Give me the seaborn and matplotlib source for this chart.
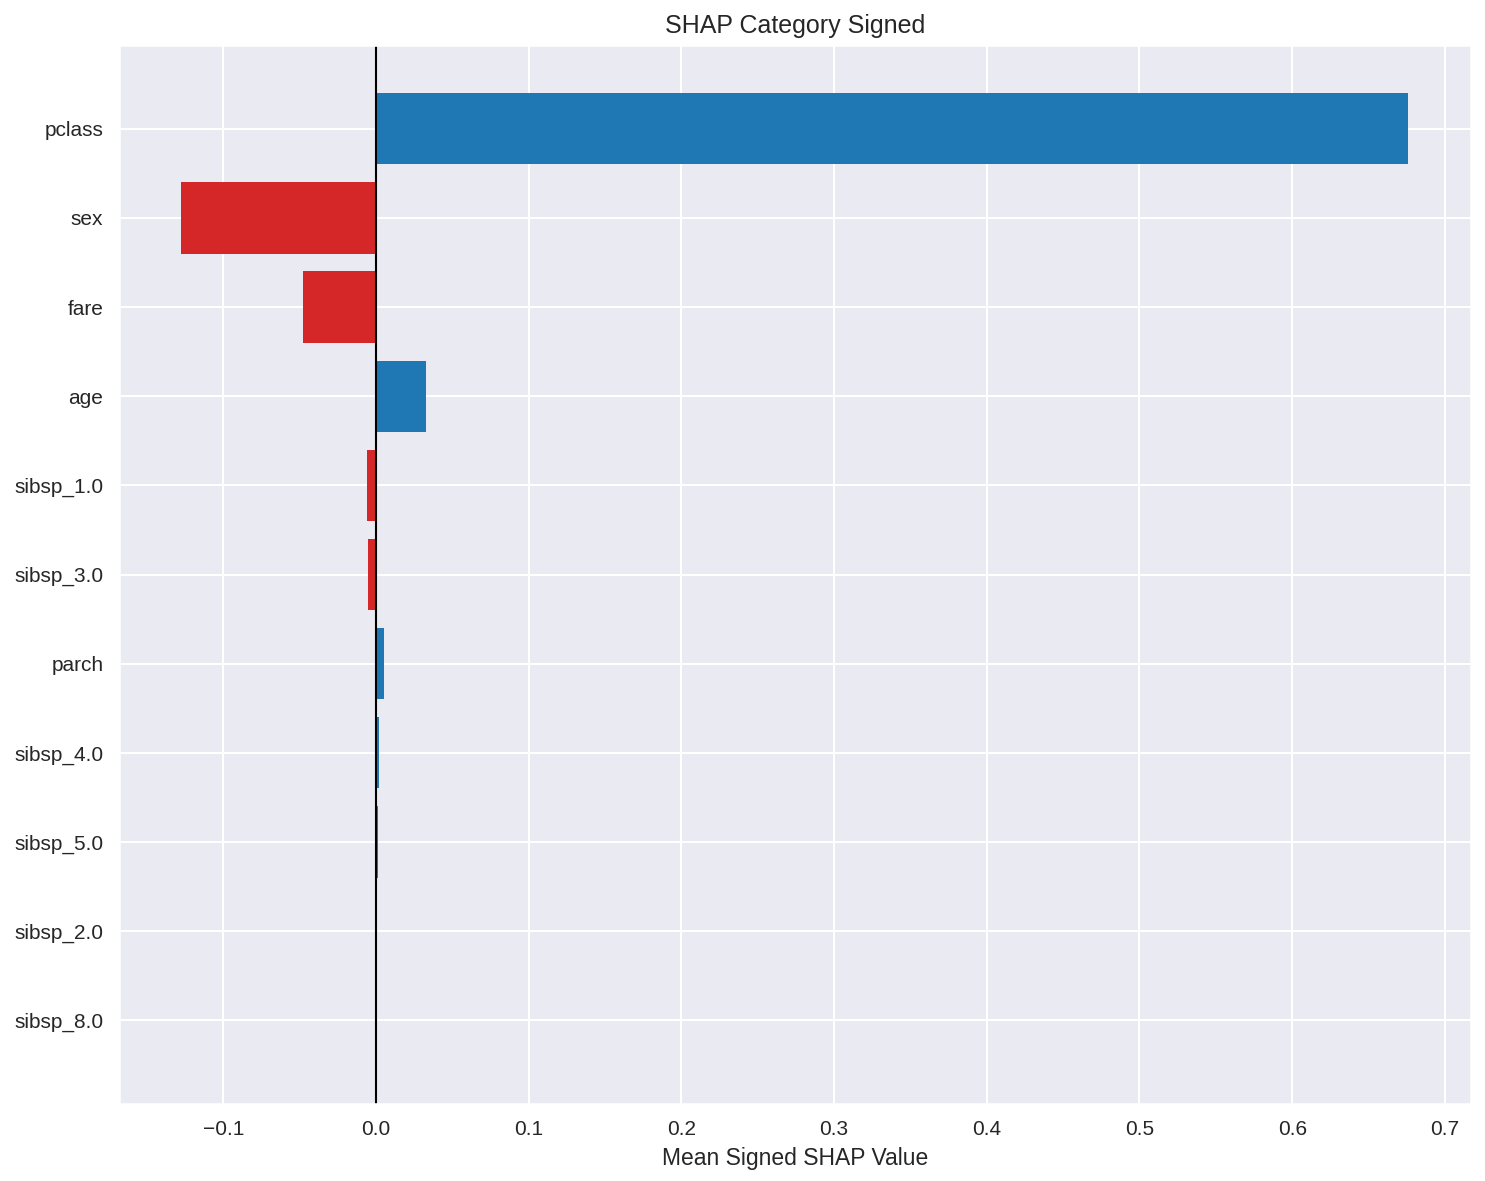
import matplotlib
matplotlib.use("Agg")
import matplotlib.pyplot as plt
import seaborn as sns
import pandas as pd

features = ["pclass", "sex", "fare", "age", "sibsp_1.0", "sibsp_3.0",
            "parch", "sibsp_4.0", "sibsp_5.0", "sibsp_2.0", "sibsp_8.0"]
values = [0.676, -0.1275, -0.0477, 0.0327, -0.0059, -0.0052,
          0.0052, 0.0020, 0.0012, 0.0003, 0.0]

sns.set_theme(style="darkgrid")
plt.rcParams['font.family'] = ['Liberation Sans', 'DejaVu Sans']

df = pd.DataFrame({"feature": features, "value": values})
df["sign"] = ["pos" if v >= 0 else "neg" for v in values]

fig, ax = plt.subplots(figsize=(1485 / 150, 1181 / 150), dpi=150)
fig.subplots_adjust(left=119 / 1485, right=1471 / 1485,
                    top=1 - 45 / 1181, bottom=1 - 1104 / 1181)
sns.barplot(data=df, x="value", y="feature", hue="sign",
            palette={"pos": "#1f77b4", "neg": "#d62728"},
            dodge=False, legend=False, ax=ax, saturation=1, width=0.8,
            linewidth=0)
ax.axvline(0, color="black", linewidth=1)
ax.yaxis.grid(True)
ax.xaxis.grid(True)
ax.set_axisbelow(True)
ax.set_ylim(10.94, -0.94)
ax.set_xlim(-0.1683, 0.7171)
ax.tick_params(axis="both", labelsize=10, pad=1.5)
ax.set_xlabel("Mean Signed SHAP Value", fontsize=11, labelpad=4)
ax.set_ylabel("")
ax.set_title("SHAP Category Signed", fontsize=12)
fig.savefig("out.png", dpi=150)
